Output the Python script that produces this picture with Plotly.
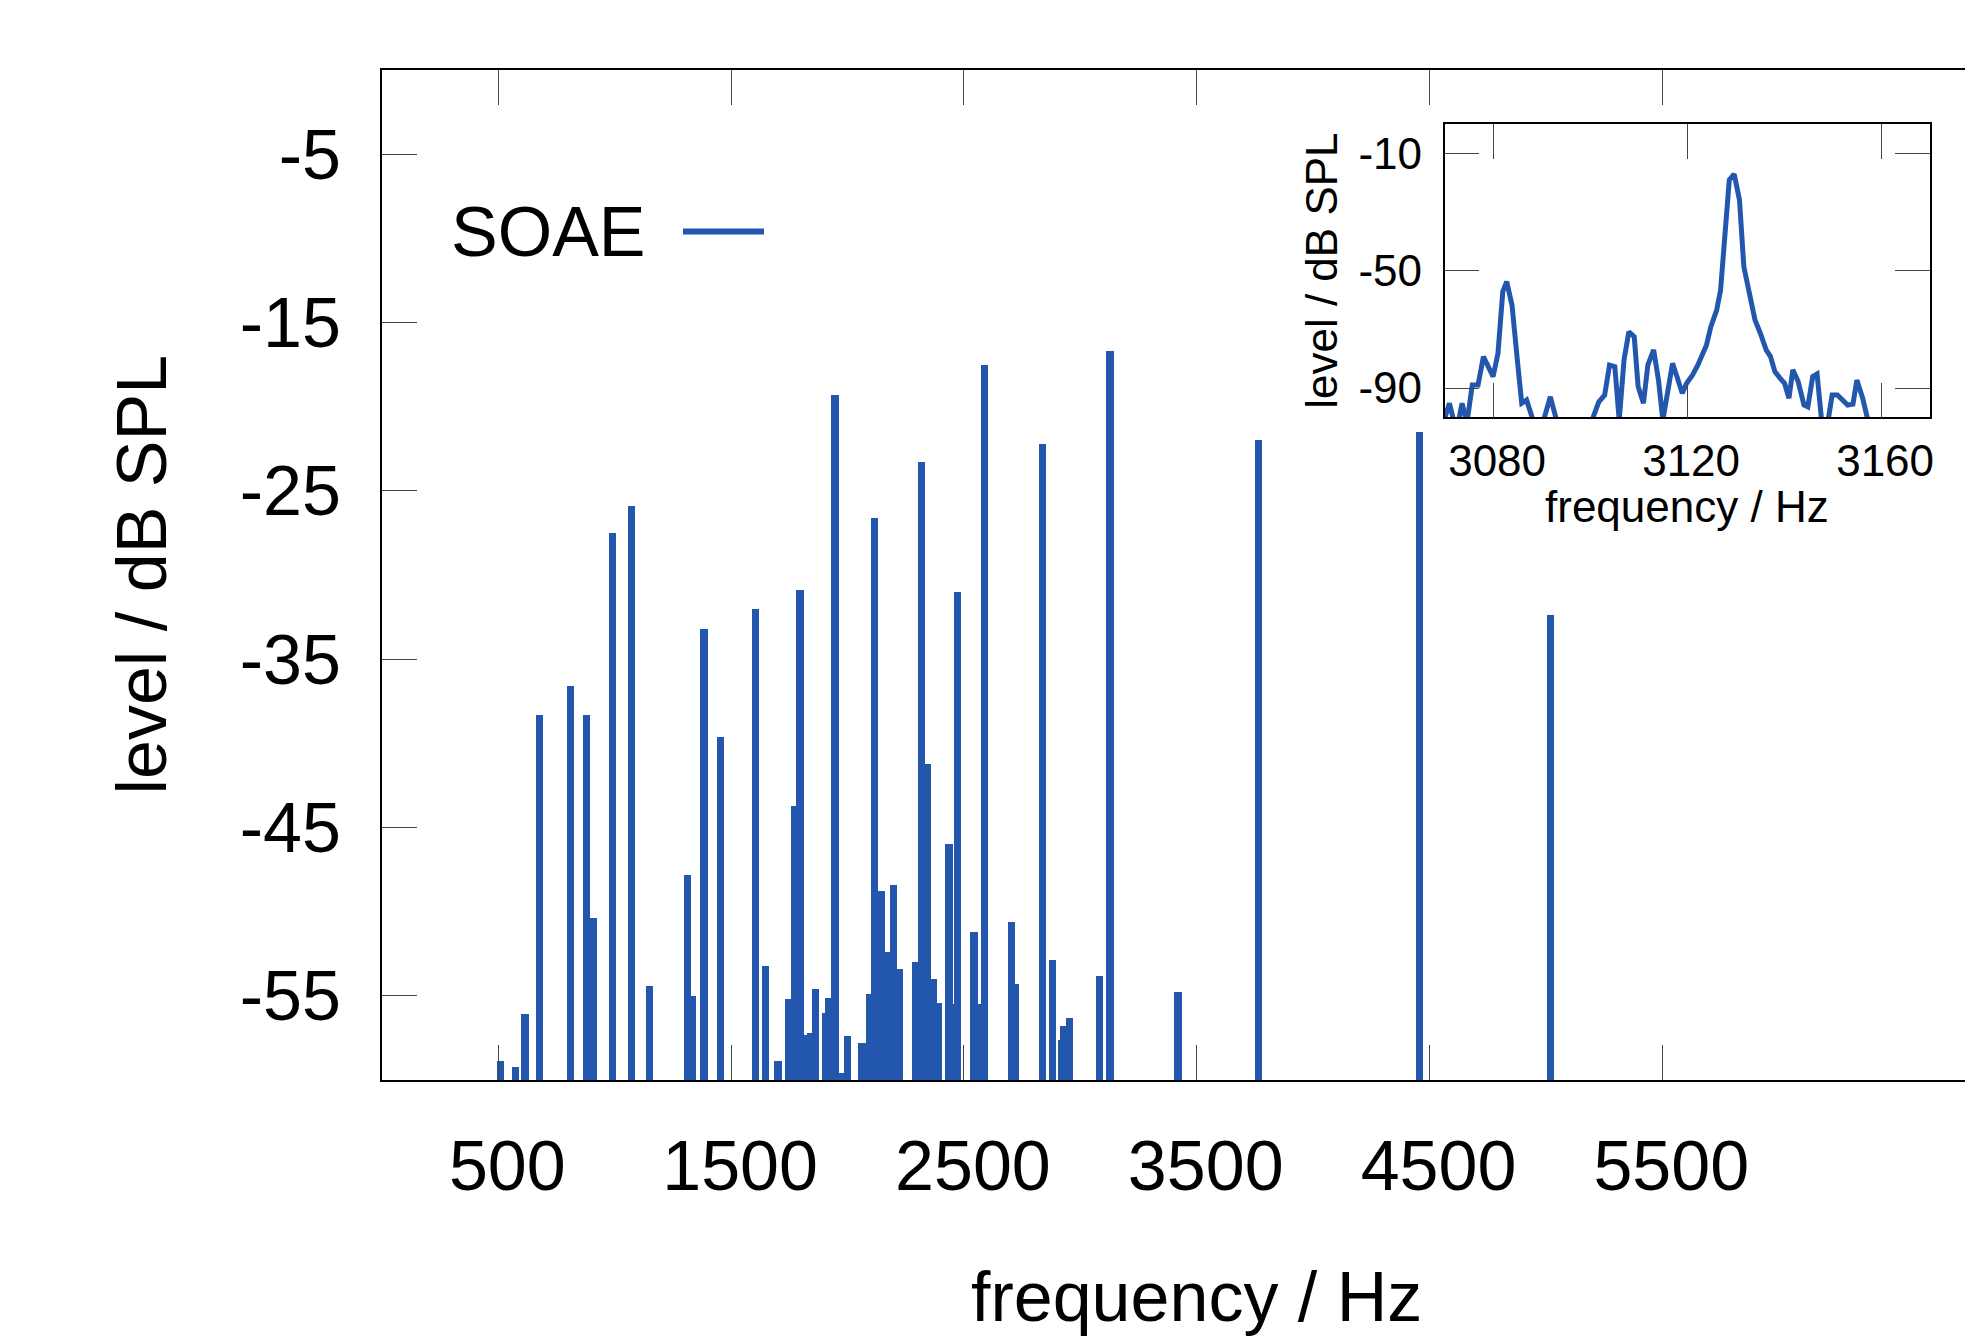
import plotly.graph_objects as go

# ---------------- data ----------------
# main chart: SOAE peaks (frequency in Hz, level in dB SPL)
soae_freq = [510, 573, 615, 676, 809, 878, 908, 990, 1071, 1148,
             1312, 1332, 1383, 1453, 1604, 1647, 1701, 1746, 1774, 1796,
             1809, 1840, 1863, 1906, 1918, 1945, 1971, 1999, 2062, 2095,
             2116, 2145, 2168, 2182, 2198, 2222, 2291, 2317, 2343, 2367,
             2390, 2436, 2455, 2473, 2542, 2564, 2588, 2705, 2722, 2836,
             2881, 2921, 2930, 2953, 3082, 3127, 3419, 3766, 4457, 5020]
soae_level = [-58.9, -59.2, -56.1, -38.3, -36.6, -38.3, -50.4, -27.5, -25.9, -54.4,
              -47.8, -55.0, -33.2, -39.6, -32.0, -53.2, -58.9, -55.2, -43.7, -30.9,
              -57.3, -57.2, -54.6, -56.0, -55.1, -19.3, -59.6, -57.4, -57.8, -54.9,
              -26.6, -48.8, -52.4, -56.6, -48.4, -53.4, -53.0, -23.3, -41.2, -54.0,
              -55.4, -46.0, -55.5, -31.0, -51.2, -55.5, -17.5, -50.6, -54.3, -22.2,
              -52.9, -57.6, -56.8, -56.3, -53.8, -16.7, -54.8, -22.0, -21.5, -32.4]

# inset: spectrum around 3127 Hz
inset_freq = [3070.0, 3071.0, 3072.0, 3072.9, 3073.6, 3074.6, 3075.7, 3076.9, 3078.0, 3080.0,
              3081.0, 3082.0, 3082.8, 3083.9, 3085.0, 3085.9, 3086.9, 3088.0, 3089.2, 3090.5,
              3091.8, 3093.0, 3094.5, 3096.5, 3098.5, 3100.5, 3101.8, 3103.0, 3104.0, 3105.1,
              3106.0, 3107.0, 3108.0, 3109.1, 3109.9, 3111.0, 3111.9, 3113.1, 3114.1, 3115.0,
              3116.0, 3117.0, 3117.9, 3119.0, 3119.9, 3121.1, 3122.2, 3123.0, 3124.0, 3124.9,
              3126.1, 3126.9, 3127.6, 3128.7, 3129.7, 3130.8, 3131.7, 3132.8, 3134.0, 3135.1,
              3136.3, 3137.2, 3138.1, 3139.2, 3140.1, 3141.0, 3141.8, 3142.9, 3144.1, 3144.9,
              3145.9, 3146.8, 3147.7, 3148.8, 3149.9, 3151.0, 3152.2, 3153.1, 3154.2, 3155.0,
              3156.2, 3157.2, 3158.5]
inset_level = [-100.5, -95.2, -102.0, -101.0, -95.2, -102.0, -89.0, -89.0, -79.3, -86.1,
               -78.2, -57.1, -53.7, -61.7, -80.5, -95.2, -94.1, -100.5, -106.0, -100.5,
               -93.0, -100.5, -108.0, -110.0, -106.0, -100.5, -94.7, -92.4, -82.2, -82.7,
               -101.0, -80.4, -70.8, -72.5, -89.5, -95.2, -82.2, -77.0, -87.3, -101.0,
               -90.7, -81.6, -86.1, -91.8, -88.4, -85.6, -82.2, -78.7, -75.3, -69.1,
               -63.4, -56.6, -40.6, -19.0, -17.0, -25.8, -48.6, -57.7, -66.8, -71.3,
               -77.0, -79.3, -84.4, -86.7, -88.4, -93.5, -83.8, -87.8, -95.8, -96.4,
               -86.1, -85.2, -100.5, -104.0, -92.4, -92.4, -94.7, -95.8, -95.5, -87.3,
               -93.5, -100.5, -105.0]

main_xticks = [500, 1500, 2500, 3500, 4500, 5500]
main_yticks = [-5, -15, -25, -35, -45, -55]
inset_xticks = [3080, 3120, 3160]
inset_yticks = [-10, -50, -90]

MAIN_BASE = -60
BLUE = "#2257AD"
FONT = "Liberation Sans, Arial, Helvetica, sans-serif"

# page body has an 8px margin; figure sized so it ends at the window edge
OFF = 8
W, H = 1973 - OFF, 1337 - OFF


def px(x):  # window x pixel -> paper fraction
    return (x - OFF) / W


def py(y):  # window y pixel -> paper fraction
    return 1 - (y - OFF) / H


fig = go.Figure()

fig.add_trace(go.Bar(
    x=soae_freq,
    y=[v - MAIN_BASE for v in soae_level],
    base=MAIN_BASE,
    width=32,
    marker=dict(color=BLUE, line=dict(width=0)),
    showlegend=False,
    xaxis="x", yaxis="y",
))

fig.add_trace(go.Scatter(
    x=inset_freq, y=inset_level, mode="lines",
    line=dict(color=BLUE, width=5),
    showlegend=False,
    xaxis="x2", yaxis="y2",
))

tick_common = dict(ticks="inside", ticklen=35, tickwidth=1.2, tickcolor="#444",
                   showgrid=False, zeroline=False, showline=True, linecolor="black")

fig.update_layout(
    width=W, height=H, autosize=False,
    margin=dict(l=0, r=0, t=0, b=0),
    paper_bgcolor="white", plot_bgcolor="white",
    barmode="overlay", bargap=0,
    font=dict(family=FONT, color="black"),
    xaxis=dict(domain=[px(381.9), 1.0], range=[0, (1973 - 381.9) / 0.2328],
               tickvals=main_xticks, ticktext=[str(t) for t in main_xticks],
               mirror="ticks", linewidth=2, tickfont=dict(size=70),
               ticklabelstandoff=24, ticklabelshift=9, automargin=False,
               anchor="y", **tick_common),
    yaxis=dict(domain=[py(1080), py(70)], range=[MAIN_BASE, 0],
               tickvals=main_yticks, ticktext=[str(t) for t in main_yticks],
               mirror=False, linewidth=2, tickfont=dict(size=70),
               ticklabelstandoff=25, automargin=False,
               anchor="x", **tick_common),
    xaxis2=dict(domain=[px(1444.6), px(1929.6)], range=[3070, 3170],
                tickvals=inset_xticks, ticktext=[str(t) for t in inset_xticks],
                mirror="ticks", linewidth=1.5, tickfont=dict(size=44),
                ticklabelstandoff=4, ticklabelshift=4, automargin=False,
                anchor="y2", **tick_common),
    yaxis2=dict(domain=[py(417.3), py(124.3)], range=[-100, 0],
                tickvals=inset_yticks, ticktext=[str(t) for t in inset_yticks],
                mirror="ticks", linewidth=1.5, tickfont=dict(size=44),
                ticklabelstandoff=12, automargin=False,
                anchor="x2", **tick_common),
)

annotations = [
    # main axis titles
    dict(text="frequency / Hz", x=3500, xref="x", y=py(1296.6), yref="paper",
         xanchor="center", yanchor="middle", showarrow=False, font=dict(size=70)),
    dict(text="level / dB SPL", x=px(141.6), xref="paper", y=py(575), yref="paper",
         xanchor="center", yanchor="middle", textangle=-90, showarrow=False,
         font=dict(size=70)),
    # inset axis titles
    dict(text="frequency / Hz", x=3120, xref="x2", y=py(507), yref="paper",
         xanchor="center", yanchor="middle", showarrow=False, font=dict(size=44)),
    dict(text="level / dB SPL", x=px(1322), xref="paper", y=py(270.8), yref="paper",
         xanchor="center", yanchor="middle", textangle=-90, showarrow=False,
         font=dict(size=44)),
    # legend label
    dict(text="SOAE", x=px(449), xref="paper", y=py(232), yref="paper",
         xanchor="left", yanchor="middle", showarrow=False, font=dict(size=70)),
]
fig.update_layout(annotations=annotations)

# legend line sample
fig.add_shape(type="line", xref="paper", yref="paper",
              x0=px(683), x1=px(764), y0=py(231.5), y1=py(231.5),
              line=dict(color=BLUE, width=6))

fig.write_html("out.html")
